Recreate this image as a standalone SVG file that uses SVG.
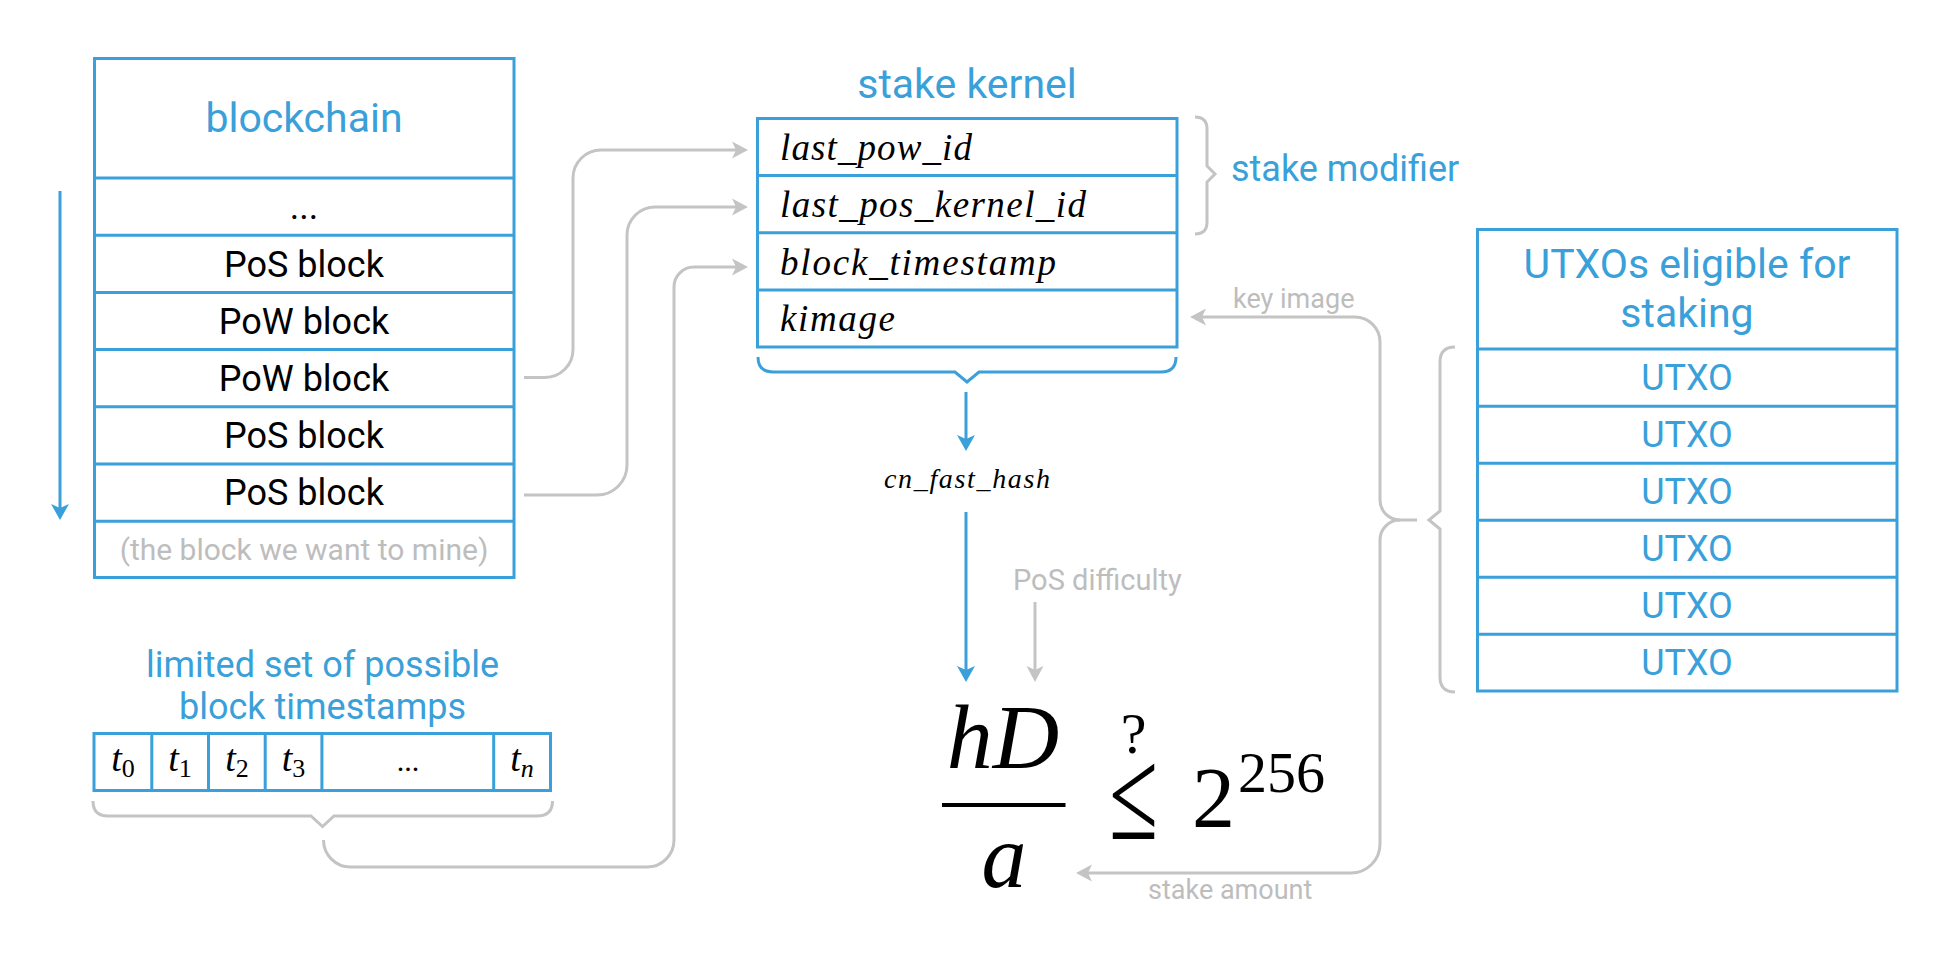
<svg xmlns="http://www.w3.org/2000/svg" width="1950" height="969" viewBox="0 0 1950 969">
<style>
.box{fill:none;stroke:#3aa0da;stroke-width:3}
.bl{stroke:#3aa0da;stroke-width:3;fill:none}
.gl{stroke:#c4c4c4;stroke-width:3;fill:none}
.sans{font-family:Roboto,"Liberation Sans",sans-serif}
.blue{fill:#3aa0da}
.grey{fill:#bdbdbd}
.blk{fill:#000}
.math{font-family:"Liberation Serif","DejaVu Serif",serif;font-style:italic;fill:#000}
.rm{font-family:"Liberation Serif","DejaVu Serif",serif;fill:#000}
</style>
<defs>
<marker id="ag" markerUnits="userSpaceOnUse" markerWidth="30" markerHeight="30" refX="0" refY="0" orient="auto" overflow="visible">
<path d="M-4,-8.5 L12,0 L-4,8.5 L0,0 Z" fill="#c4c4c4"/>
</marker>
<marker id="ab" markerUnits="userSpaceOnUse" markerWidth="30" markerHeight="30" refX="0" refY="0" orient="auto" overflow="visible">
<path d="M-4,-9 L12,0 L-4,9 L0,0 Z" fill="#3aa0da"/>
</marker>
</defs>
<rect width="1950" height="969" fill="#fff"/>

<g id="connectors">
<line class="bl" x1="60" y1="191" x2="60" y2="508" marker-end="url(#ab)"/>
<path class="gl" d="M524,377.5 H545 A28,28 0 0 0 573,349.5 V178 A28,28 0 0 1 601,150 H736" marker-end="url(#ag)"/>
<path class="gl" d="M524,495 H597 A30,30 0 0 0 627,465 V235 A28,28 0 0 1 655,207 H736" marker-end="url(#ag)"/>
<path class="gl" d="M323.5,840 A27,27 0 0 0 350.5,867 H647 A27,27 0 0 0 674,840 V287 A20,20 0 0 1 694,267 H736" marker-end="url(#ag)"/>
<line class="bl" x1="966" y1="392" x2="966" y2="439" marker-end="url(#ab)"/>
<line class="bl" x1="966" y1="512" x2="966" y2="670" marker-end="url(#ab)"/>
<line class="gl" x1="1035" y1="602" x2="1035" y2="670" marker-end="url(#ag)"/>
<path class="gl" d="M1417,520 H1400 A20,20 0 0 1 1380,500 V342 A25,25 0 0 0 1355,317 H1202" marker-end="url(#ag)"/>
<path class="gl" d="M1400,520 A20,20 0 0 0 1380,540 V844 A29,29 0 0 1 1351,873 H1088" marker-end="url(#ag)"/>
<text class="sans grey" x="1233" y="308" font-size="27">key image</text>
<text class="sans grey" x="1148" y="899" font-size="27">stake amount</text>
<text class="sans grey" x="1013" y="590" font-size="29">PoS difficulty</text>
<text class="math" x="967" y="488" font-size="28" text-anchor="middle" textLength="166" lengthAdjust="spacing">cn_fast_hash</text>
</g>

<g id="blockchain">
<rect class="box" x="94.5" y="58.5" width="419.5" height="519"/>
<path class="bl" d="M94.5,178 H514 M94.5,235.2 H514 M94.5,292.4 H514 M94.5,349.6 H514 M94.5,406.8 H514 M94.5,464 H514 M94.5,521.2 H514"/>
<text class="sans blue" x="304" y="132" font-size="41" text-anchor="middle">blockchain</text>
<text class="sans blk" x="304" y="219" font-size="36" text-anchor="middle">...</text>
<text class="sans blk" x="304" y="276.6" font-size="36" text-anchor="middle">PoS block</text>
<text class="sans blk" x="304" y="333.8" font-size="36" text-anchor="middle">PoW block</text>
<text class="sans blk" x="304" y="391" font-size="36" text-anchor="middle">PoW block</text>
<text class="sans blk" x="304" y="448.2" font-size="36" text-anchor="middle">PoS block</text>
<text class="sans blk" x="304" y="505.4" font-size="36" text-anchor="middle">PoS block</text>
<text class="sans grey" x="304" y="560" font-size="30" text-anchor="middle">(the block we want to mine)</text>
</g>

<g id="stake-kernel">
<text class="sans blue" x="967" y="98" font-size="41" text-anchor="middle">stake kernel</text>
<rect class="box" x="757.5" y="118.5" width="419.5" height="228.5"/>
<path class="bl" d="M757.5,175.6 H1177 M757.5,232.8 H1177 M757.5,290 H1177"/>
<text class="math" x="780" y="160" font-size="37" textLength="192" lengthAdjust="spacing">last_pow_id</text>
<text class="math" x="780" y="217" font-size="37" textLength="306" lengthAdjust="spacing">last_pos_kernel_id</text>
<text class="math" x="780" y="275" font-size="37" textLength="276" lengthAdjust="spacing">block_timestamp</text>
<text class="math" x="780" y="331" font-size="37" textLength="115" lengthAdjust="spacing">kimage</text>
<path class="bl" d="M758,357 Q758,372 773,372 H955 L967,382 L979,372 H1161 Q1176,372 1176,357"/>
</g>

<g id="stake-modifier">
<path class="gl" d="M1195,117 Q1207,117 1207,129 V166 L1215,174 L1207,182 V222 Q1207,234 1195,234"/>
<text class="sans blue" x="1231" y="181" font-size="36">stake modifier</text>
</g>

<g id="utxos">
<rect class="box" x="1477.5" y="229.5" width="419.5" height="461.5"/>
<path class="bl" d="M1477.5,349 H1897 M1477.5,406.3 H1897 M1477.5,463.3 H1897 M1477.5,520.3 H1897 M1477.5,577.3 H1897 M1477.5,634.3 H1897"/>
<text class="sans blue" x="1687" y="278" font-size="41" text-anchor="middle">UTXOs eligible for</text>
<text class="sans blue" x="1687" y="327" font-size="41" text-anchor="middle">staking</text>
<text class="sans blue" x="1687" y="390" font-size="36" text-anchor="middle">UTXO</text>
<text class="sans blue" x="1687" y="447.3" font-size="36" text-anchor="middle">UTXO</text>
<text class="sans blue" x="1687" y="504.3" font-size="36" text-anchor="middle">UTXO</text>
<text class="sans blue" x="1687" y="561.3" font-size="36" text-anchor="middle">UTXO</text>
<text class="sans blue" x="1687" y="618.3" font-size="36" text-anchor="middle">UTXO</text>
<text class="sans blue" x="1687" y="675" font-size="36" text-anchor="middle">UTXO</text>
<path class="gl" d="M1455,347 Q1440,347 1440,362 V511 L1429,520 L1440,529 V677 Q1440,692 1455,692"/>
</g>

<g id="timestamps">
<text class="sans blue" x="322.5" y="677" font-size="36" text-anchor="middle">limited set of possible</text>
<text class="sans blue" x="322.5" y="719" font-size="36" text-anchor="middle">block timestamps</text>
<rect class="box" x="94" y="733.5" width="456.5" height="57"/>
<path class="bl" d="M151.8,733.5 V790.5 M208.5,733.5 V790.5 M265.2,733.5 V790.5 M321.9,733.5 V790.5 M493.7,733.5 V790.5"/>
<text class="math" x="123" y="771" font-size="38" text-anchor="middle">t<tspan class="rm" font-style="normal" font-size="26" dy="6">0</tspan></text>
<text class="math" x="180" y="771" font-size="38" text-anchor="middle">t<tspan class="rm" font-style="normal" font-size="26" dy="6">1</tspan></text>
<text class="math" x="237" y="771" font-size="38" text-anchor="middle">t<tspan class="rm" font-style="normal" font-size="26" dy="6">2</tspan></text>
<text class="math" x="293.5" y="771" font-size="38" text-anchor="middle">t<tspan class="rm" font-style="normal" font-size="26" dy="6">3</tspan></text>
<text class="rm" x="408" y="771" font-size="30" text-anchor="middle">...</text>
<text class="math" x="522" y="771" font-size="38" text-anchor="middle">t<tspan font-size="26" dy="6">n</tspan></text>
<path class="gl" d="M93,801 Q93,816 108,816 H311 L322.5,826.5 L334,816 H537 Q552.5,816 552.5,801"/>
</g>

<g id="formula">
<text class="math" x="1003" y="768" font-size="92" text-anchor="middle">hD</text>
<line x1="942" y1="805" x2="1065.5" y2="805" stroke="#000" stroke-width="4"/>
<text class="math" x="1004" y="887" font-size="90" text-anchor="middle">a</text>
<text class="rm" x="0" y="0" font-size="89" text-anchor="middle" transform="translate(1133.5,838.5) scale(1,1.48)">≤</text>
<text class="rm" x="1133.5" y="753" font-size="58" text-anchor="middle">?</text>
<text class="rm" x="1213.5" y="827" font-size="86" text-anchor="middle">2</text>
<text class="rm" x="1238" y="792" font-size="58">256</text>
</g>
</svg>
